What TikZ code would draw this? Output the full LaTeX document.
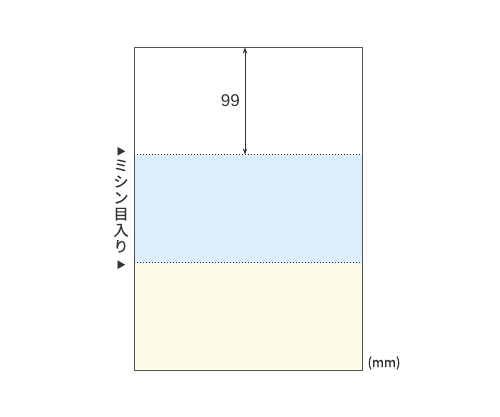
\documentclass[tikz,border=0pt]{standalone}
\usepackage{fontspec}
\setmainfont{Liberation Sans}
\newfontfamily\jpfont[FakeBold=0.4]{Noto Sans CJK JP}
\usetikzlibrary{arrows.meta}
\definecolor{bandblue}{RGB}{220,238,251}
\definecolor{bandcream}{RGB}{254,251,234}
\definecolor{edge}{RGB}{85,85,85}
\definecolor{ink}{RGB}{51,51,51}
\begin{document}
\begin{tikzpicture}[x=1pt,y=-1pt,
  perf/.style={draw=ink,line width=0.9pt,dash pattern=on 1pt off 2pt},
  dim/.style={draw=ink,line width=0.8pt,{Stealth[length=6pt,width=4.5pt]}-{Stealth[length=6pt,width=4.5pt]}},
  lbl/.style={text=ink,inner sep=0pt}]
\useasboundingbox (0,0) rectangle (500,417);
% bands
\fill[bandblue] (133.5,154.5) rectangle (361.5,262.5);
\fill[bandcream] (133.5,262.5) rectangle (361.5,369.5);
% page outline
\node[draw=edge,line width=0.9pt,minimum width=228pt,minimum height=322pt,inner sep=0pt,anchor=north west] (page) at (133.5,47.5) {};
% perforation lines
\coordinate (p1l) at (133.5,154.5);
\coordinate (p1r) at (361.5,154.5);
\coordinate (p2l) at (133.5,262.5);
\coordinate (p2r) at (361.5,262.5);
\draw[perf] (p1l) -- (p1r);
\draw[perf] (p2l) -- (p2r);
% dimension
\coordinate (dtop) at (245,47.5);
\coordinate (dbot) at (245,154.5);
\draw[dim] (dtop) -- (dbot);
\node[lbl,font=\fontsize{17}{17}\selectfont,anchor=east] (n99) at (240,101) {99};
% vertical label
\node[lbl,align=center,font=\jpfont\fontsize{15}{16.2}\selectfont] (perflabel) at (121,208)
  {{\fontsize{9}{9}\selectfont ▶}\\ミ\\シ\\ン\\目\\入\\り\\{\fontsize{9}{9}\selectfont ▶}};
% unit
\node[lbl,font=\jpfont\fontsize{13}{13}\selectfont] (unit) at (384,363) {(mm)};
\end{tikzpicture}
\end{document}
